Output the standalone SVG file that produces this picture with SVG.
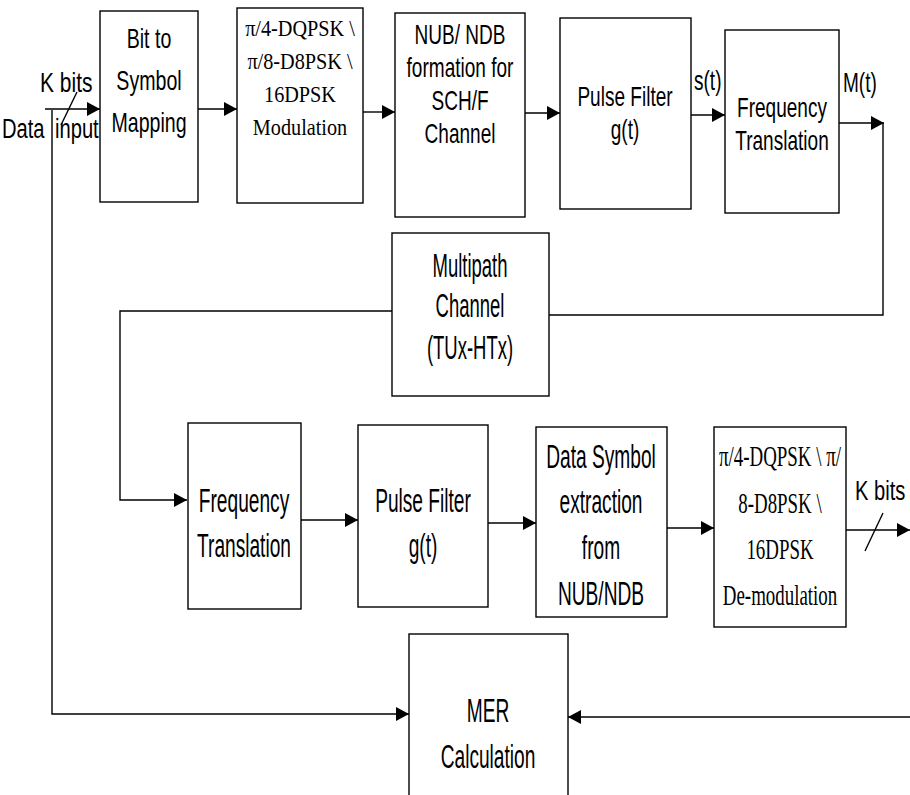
<svg xmlns="http://www.w3.org/2000/svg" width="910" height="795" viewBox="0 0 910 795">
<defs>
<marker id="ah" markerWidth="14" markerHeight="14" refX="13" refY="7" orient="auto" markerUnits="userSpaceOnUse">
<path d="M0,0 L13,7 L0,14 Z" fill="#000"/>
</marker>
<style>
.box{fill:#fff;stroke:#000;stroke-width:1.4}
.ln{fill:none;stroke:#000;stroke-width:1.4}
.s{font-family:"Liberation Sans",Arial,sans-serif;font-size:28px;text-anchor:middle;fill:#000}
.sl{font-family:"Liberation Sans",Arial,sans-serif;font-size:28px;fill:#000}
.b{font-family:"Liberation Sans",Arial,sans-serif;font-size:33px;text-anchor:middle;fill:#000}
.r{font-family:"Liberation Serif","Times New Roman",serif;font-size:23px;text-anchor:middle;fill:#000}
.rb{font-family:"Liberation Serif","Times New Roman",serif;font-size:30px;text-anchor:middle;fill:#000}
</style>
</defs>
<rect width="910" height="795" fill="#fff"/>
<g id="connectors">
<line class="ln" x1="45" y1="109" x2="100" y2="109" marker-end="url(#ah)"/>
<line class="ln" x1="61" y1="125" x2="77" y2="92"/>
<polyline class="ln" points="52,110 52,714 409,714" marker-end="url(#ah)"/>
<line class="ln" x1="198" y1="109" x2="237" y2="109" marker-end="url(#ah)"/>
<line class="ln" x1="363" y1="112" x2="395" y2="112" marker-end="url(#ah)"/>
<line class="ln" x1="525" y1="113" x2="560" y2="113" marker-end="url(#ah)"/>
<line class="ln" x1="691" y1="115" x2="725" y2="115" marker-end="url(#ah)"/>
<line class="ln" x1="839" y1="123" x2="884" y2="123" marker-end="url(#ah)"/>
<polyline class="ln" points="883,123 883,315 549,315"/>
<polyline class="ln" points="392,311 120,311 120,500 187,500" marker-end="url(#ah)"/>
<line class="ln" x1="301" y1="520" x2="358" y2="520" marker-end="url(#ah)"/>
<line class="ln" x1="488" y1="523" x2="536" y2="523" marker-end="url(#ah)"/>
<line class="ln" x1="667" y1="528" x2="714" y2="528" marker-end="url(#ah)"/>
<line class="ln" x1="846" y1="530" x2="910" y2="530" marker-end="url(#ah)"/>
<line class="ln" x1="865" y1="551" x2="883" y2="513"/>
<line class="ln" x1="910" y1="717" x2="568" y2="717" marker-end="url(#ah)"/>
<text class="sl" transform="translate(40,92) scale(0.75,1)">K bits</text>
<text class="sl" transform="translate(2,138) scale(0.72,1)">Data</text>
<text class="sl" transform="translate(55,138) scale(0.72,1)">input</text>
<text class="sl" transform="translate(694,90) scale(0.68,1)">s(t)</text>
<text class="sl" transform="translate(843,92) scale(0.68,1)">M(t)</text>
<text class="sl" transform="translate(855,500) scale(0.72,1)">K bits</text>
</g>
<g id="bit2sym">
<rect class="box" x="100" y="11" width="98" height="191"/>
<text class="s" transform="translate(149,48) scale(0.7,1)">Bit to</text>
<text class="s" transform="translate(149,90) scale(0.7,1)">Symbol</text>
<text class="s" transform="translate(149,132) scale(0.7,1)">Mapping</text>
</g>
<g id="mod">
<rect class="box" x="237" y="8" width="126" height="195"/>
<text class="r" transform="translate(300,36) scale(0.88,1)">π/4-DQPSK \</text>
<text class="r" transform="translate(300,69) scale(0.88,1)">π/8-D8PSK \</text>
<text class="r" transform="translate(300,102) scale(0.88,1)">16DPSK</text>
<text class="r" transform="translate(300,135) scale(0.88,1)">Modulation</text>
</g>
<g id="nub">
<rect class="box" x="395" y="13" width="130" height="204"/>
<text class="s" transform="translate(460,44) scale(0.68,1)">NUB/ NDB</text>
<text class="s" transform="translate(460,77) scale(0.68,1)">formation for</text>
<text class="s" transform="translate(460,110) scale(0.68,1)">SCH/F</text>
<text class="s" transform="translate(460,143) scale(0.68,1)">Channel</text>
</g>
<g id="pulse1">
<rect class="box" x="560" y="18" width="131" height="191"/>
<text class="s" transform="translate(625,106) scale(0.68,1)">Pulse Filter</text>
<text class="s" transform="translate(625,139) scale(0.68,1)">g(t)</text>
</g>
<g id="freq1">
<rect class="box" x="725" y="30" width="114" height="183"/>
<text class="s" transform="translate(782,117) scale(0.68,1)">Frequency</text>
<text class="s" transform="translate(782,150) scale(0.68,1)">Translation</text>
</g>
<g id="multipath">
<rect class="box" x="392" y="233" width="157" height="163"/>
<text class="b" transform="translate(470,277) scale(0.56,1)">Multipath</text>
<text class="b" transform="translate(470,317) scale(0.56,1)">Channel</text>
<text class="b" transform="translate(470,359) scale(0.56,1)">(TUx-HTx)</text>
</g>
<g id="freq2">
<rect class="box" x="188" y="423" width="113" height="186"/>
<text class="b" transform="translate(244,512) scale(0.58,1)">Frequency</text>
<text class="b" transform="translate(244,557) scale(0.58,1)">Translation</text>
</g>
<g id="pulse2">
<rect class="box" x="358" y="425" width="130" height="182"/>
<text class="b" transform="translate(423,512) scale(0.58,1)">Pulse Filter</text>
<text class="b" transform="translate(423,557) scale(0.58,1)">g(t)</text>
</g>
<g id="extract">
<rect class="box" x="536" y="427" width="131" height="190"/>
<text class="b" transform="translate(601,468) scale(0.58,1)">Data Symbol</text>
<text class="b" transform="translate(601,513) scale(0.58,1)">extraction</text>
<text class="b" transform="translate(601,559) scale(0.58,1)">from</text>
<text class="b" transform="translate(601,605) scale(0.58,1)">NUB/NDB</text>
</g>
<g id="demod">
<rect class="box" x="714" y="427" width="132" height="200"/>
<text class="rb" transform="translate(780,466) scale(0.63,1)">π/4-DQPSK \ π/</text>
<text class="rb" transform="translate(780,513) scale(0.63,1)">8-D8PSK \</text>
<text class="rb" transform="translate(780,559) scale(0.63,1)">16DPSK</text>
<text class="rb" transform="translate(780,605) scale(0.63,1)">De-modulation</text>
</g>
<g id="mer">
<rect class="box" x="409" y="634" width="159" height="175"/>
<text class="b" transform="translate(488,722) scale(0.58,1)">MER</text>
<text class="b" transform="translate(488,768) scale(0.58,1)">Calculation</text>
</g>
</svg>
